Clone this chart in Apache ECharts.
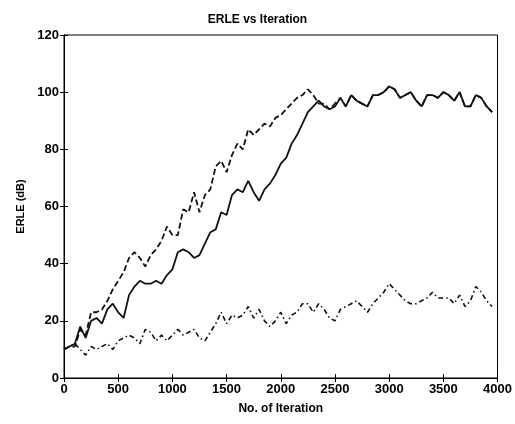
<!DOCTYPE html>
<html>
<head>
<meta charset="utf-8">
<script src="https://cdn.jsdelivr.net/npm/echarts@6/dist/echarts.min.js"></script>
<style>
  html, body { margin: 0; padding: 0; background: #fff; }
  #chart { width: 515px; height: 424px; }
</style>
</head>
<body>
<div id="chart"></div>
<script>
// iterations, every 50 samples
const iterations = [];
for (let i = 0; i <= 3950; i += 50) iterations.push(i);

// dashed curve (fastest convergence)
const erleDashed = [
  10, 11, 11, 17, 15, 23, 23, 24, 27, 31,
  34, 37, 42, 44, 42, 39, 43, 45, 48, 53,
  50, 50, 59, 58, 65, 58, 64, 66, 74, 76,
  72, 78, 82, 80, 87, 85, 87, 89, 88, 91,
  92, 94, 96, 98, 99, 101, 99, 96, 96, 94,
  96, 98, 95, 99, 97, 96, 95, 99, 99, 100,
  102, 101, 98, 99, 100, 97, 95, 99, 99, 98,
  100, 99, 97, 100, 95, 95, 99, 98, 95, 93
];

// solid curve
const erleSolid = [
  10, 11, 12, 18, 14, 20, 21, 19, 24, 26,
  23, 21, 29, 32, 34, 33, 33, 34, 33, 36,
  38, 44, 45, 44, 42, 43, 47, 51, 52, 58,
  57, 64, 66, 65, 69, 65, 62, 66, 68, 71,
  75, 77, 82, 85, 89, 93, 95, 97, 95, 94,
  95, 98, 95, 99, 97, 96, 95, 99, 99, 100,
  102, 101, 98, 99, 100, 97, 95, 99, 99, 98,
  100, 99, 97, 100, 95, 95, 99, 98, 95, 93
];

// dash-dot curve (slowest)
const erleDashDot = [
  10, 11, 12, 10, 8, 11, 10, 11, 12, 10,
  13, 14, 15, 14, 12, 17, 16, 13, 15, 13,
  15, 17, 15, 16, 17, 14, 13, 16, 19, 23,
  19, 22, 21, 22, 25, 21, 24, 20, 18, 20,
  23, 19, 22, 23, 26, 26, 23, 26, 24, 21,
  20, 24, 25, 26, 27, 25, 23, 26, 28, 30,
  33, 31, 29, 27, 26, 26, 27, 28, 30, 28,
  28, 28, 26, 29, 25, 27, 32, 30, 27, 25
];

const xTicks = [0, 500, 1000, 1500, 2000, 2500, 3000, 3500, 4000];
const yTicks = [0, 20, 40, 60, 80, 100, 120];

const pairs = arr => iterations.map((x, i) => [x, arr[i]]);
const font = 'Liberation Sans, Arial, sans-serif';

const chart = echarts.init(document.getElementById('chart'));

const option = {
  backgroundColor: '#fff',
  animation: false,
  title: {
    text: 'ERLE vs Iteration',
    left: 'center',
    top: 9,
    textStyle: { fontFamily: font, fontSize: 12, fontWeight: 'bold', color: '#000' }
  },
  grid: {
    left: 64, right: 17, top: 35, bottom: 46,
    show: true, borderColor: '#000', borderWidth: 1, backgroundColor: '#fff'
  },
  xAxis: [
    {
      type: 'value',
      min: xTicks[0], max: xTicks[xTicks.length - 1], interval: 500,
      name: 'No. of Iteration',
      nameLocation: 'middle',
      nameGap: 25,
      nameTextStyle: { fontFamily: font, fontSize: 12, fontWeight: 'bold', color: '#000' },
      axisLine: { lineStyle: { color: '#000', width: 1 } },
      axisTick: { inside: true, length: 4, lineStyle: { color: '#000' } },
      axisLabel: {
        fontFamily: font, fontSize: 13, fontWeight: 'bold', color: '#000', margin: 5,
        formatter: v => String(v)
      },
      splitLine: { show: false }
    },
    {
      type: 'value', position: 'top',
      min: xTicks[0], max: xTicks[xTicks.length - 1], interval: 500,
      axisLine: { lineStyle: { color: '#000' } },
      axisTick: { inside: true, length: 4, lineStyle: { color: '#000' } },
      axisLabel: { show: false },
      splitLine: { show: false }
    }
  ],
  yAxis: [
    {
      type: 'value',
      min: yTicks[0], max: yTicks[yTicks.length - 1], interval: 20,
      name: 'ERLE (dB)',
      nameLocation: 'middle',
      nameGap: 37,
      nameRotate: 90,
      nameTextStyle: { fontFamily: font, fontSize: 11, fontWeight: 'bold', color: '#000' },
      axisLine: { lineStyle: { color: '#000', width: 1 } },
      axisTick: { inside: true, length: 4, lineStyle: { color: '#000' } },
      axisLabel: {
        fontFamily: font, fontSize: 13, fontWeight: 'bold', color: '#000', margin: 5,
        formatter: v => String(v)
      },
      splitLine: { show: false }
    },
    {
      type: 'value', position: 'right',
      min: yTicks[0], max: yTicks[yTicks.length - 1], interval: 20,
      axisLine: { lineStyle: { color: '#000' } },
      axisTick: { inside: true, length: 4, lineStyle: { color: '#000' } },
      axisLabel: { show: false },
      splitLine: { show: false }
    }
  ],
  series: [
    {
      name: 'dashed',
      type: 'line',
      data: pairs(erleDashed),
      showSymbol: false,
      lineStyle: { color: '#111', width: 1.8, type: [6, 3] }
    },
    {
      name: 'solid',
      type: 'line',
      data: pairs(erleSolid),
      showSymbol: false,
      lineStyle: { color: '#111', width: 1.8, type: 'solid' }
    },
    {
      name: 'dashdot',
      type: 'line',
      data: pairs(erleDashDot),
      showSymbol: false,
      lineStyle: { color: '#111', width: 1.6, type: [5, 3, 1.5, 3] }
    }
  ]
};

chart.setOption(option);
</script>
</body>
</html>
